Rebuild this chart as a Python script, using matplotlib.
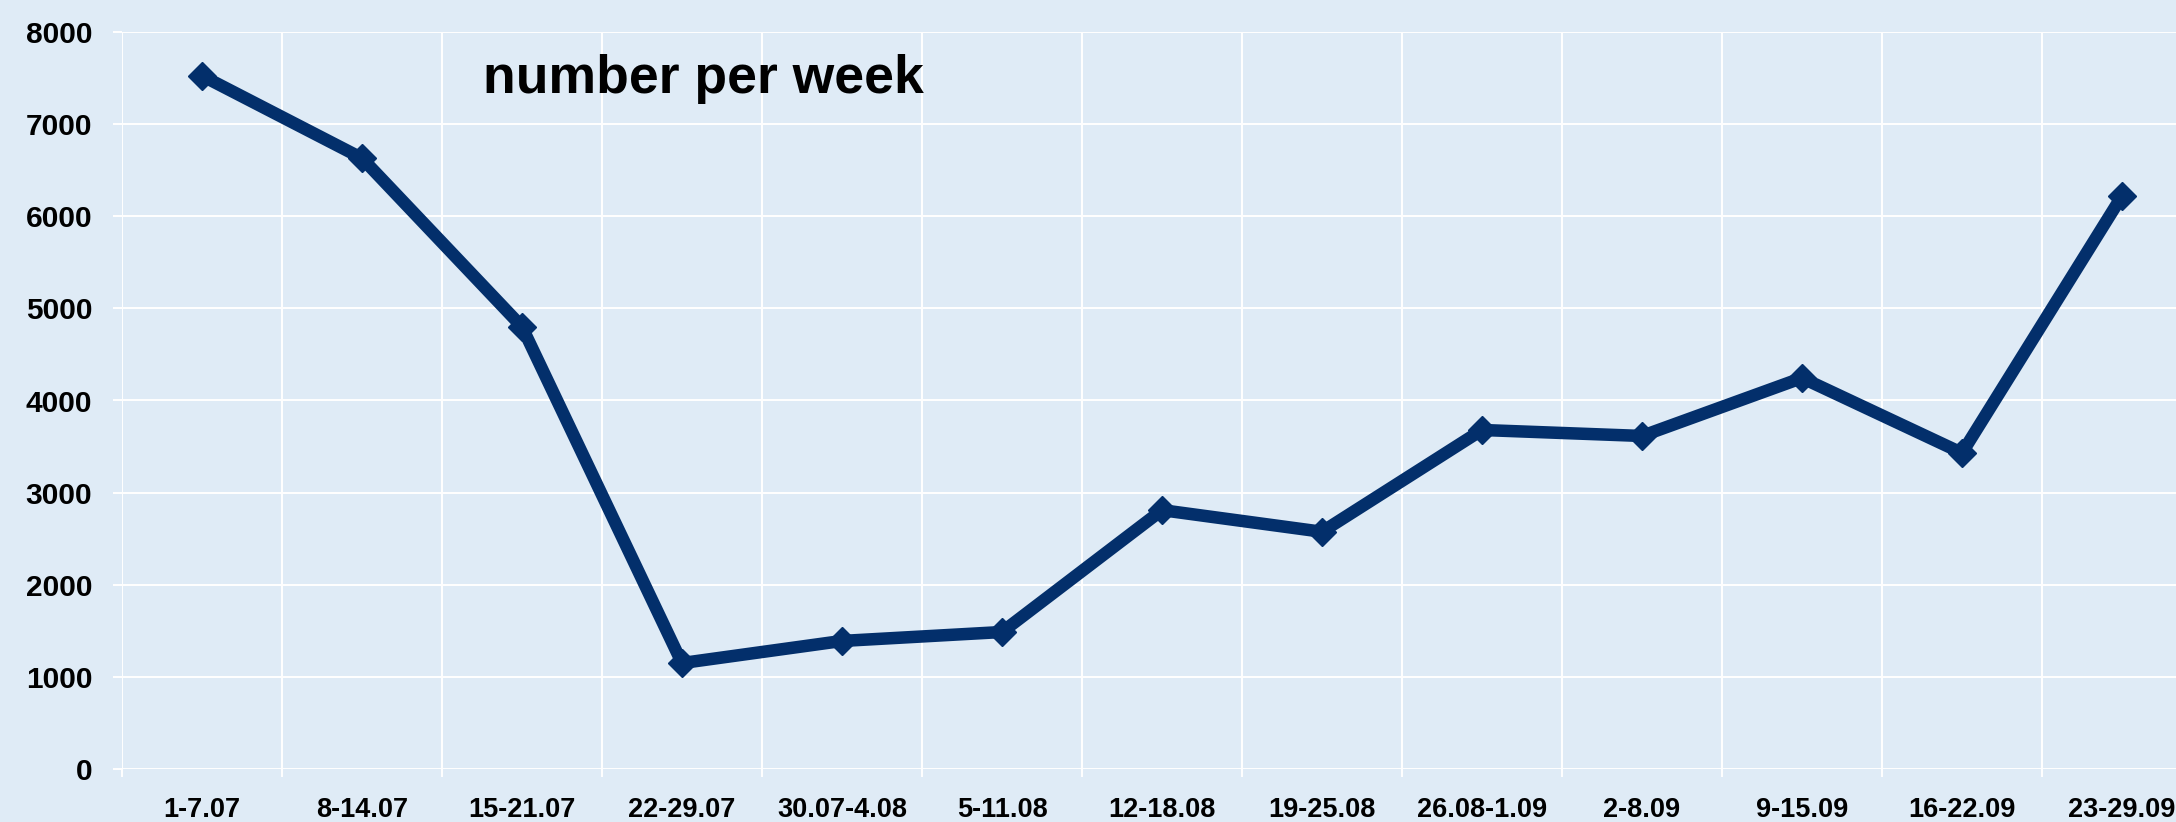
import matplotlib
matplotlib.use('Agg')
import matplotlib.pyplot as plt
import numpy as np

weeks = ['1-7.07', '8-14.07', '15-21.07', '22-29.07', '30.07-4.08', '5-11.08',
         '12-18.08', '19-25.08', '26.08-1.09', '2-8.09', '9-15.09', '16-22.09',
         '23-29.09']
counts = [7525, 6630, 4800, 1150, 1390, 1487, 2810, 2575, 3680, 3615, 4245, 3430, 6220]
y_ticks = [0, 1000, 2000, 3000, 4000, 5000, 6000, 7000, 8000]

bg = '#dfebf6'
navy = '#032f6b'

plt.rcParams['font.family'] = ['Liberation Sans', 'DejaVu Sans']
plt.rcParams['font.weight'] = 'bold'

fig = plt.figure(figsize=(21.76, 8.22), dpi=100, facecolor=bg)
# axes runs a little past the right edge, like the cropped original
ax = fig.add_axes([122 / 2176, 53 / 822, 2080 / 2176, 737 / 822])
ax.set_facecolor(bg)

X = np.arange(len(weeks))
ax.plot(X, counts, color=navy, linewidth=9, marker='D', markersize=14,
        solid_joinstyle='miter', zorder=3)

ax.set_xlim(-0.5, len(weeks) - 0.5)
ax.set_ylim(0, 8000)

ax.set_xticks(X)
ax.set_xticklabels(weeks, fontsize=19.5, fontweight='bold')
ax.set_xticks(np.arange(len(weeks) + 1) - 0.5, minor=True)
ax.tick_params(axis='x', which='major', length=0, pad=20)
ax.tick_params(axis='x', which='minor', length=6, width=1.4, color='white')

ax.set_yticks(y_ticks)
ax.set_yticklabels([str(v) for v in y_ticks], fontsize=21.5, fontweight='bold')
ax.tick_params(axis='y', length=6.5, width=1.4, color='white', pad=15)

ax.grid(axis='y', color='white', linewidth=1.4)
ax.grid(axis='x', which='minor', color='white', linewidth=1.4)
ax.set_axisbelow(True)

for s in ax.spines.values():
    s.set_visible(False)

fig.text(483 / 2176, 1 - 93 / 822, 'number per week', fontsize=38.5,
         fontweight='bold', ha='left', va='baseline')

plt.savefig('out.png', dpi=100, facecolor=bg)
plt.close()
